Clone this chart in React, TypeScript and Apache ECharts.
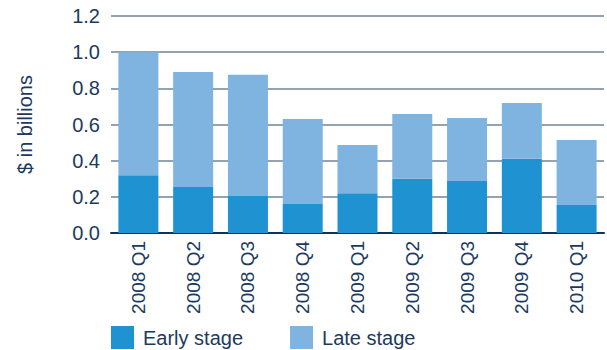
import React, { useEffect, useRef } from "react";
import * as echarts from "echarts";

const categories = ["2008 Q1", "2008 Q2", "2008 Q3", "2008 Q4", "2009 Q1", "2009 Q2", "2009 Q3", "2009 Q4", "2010 Q1"];
const earlyStage = [0.32, 0.255, 0.205, 0.16, 0.22, 0.30, 0.288, 0.41, 0.155];
const lateStage = [0.68, 0.635, 0.67, 0.47, 0.267, 0.358, 0.348, 0.309, 0.359];
const yTicks = { min: 0, max: 1.2, interval: 0.2 };

const TEXT = "#1b3a5e";
const FONT = "Liberation Sans, Arial, sans-serif";

export default function App() {
  const ref = useRef<HTMLDivElement>(null);
  useEffect(() => {
    if (!ref.current) return;
    const chart = echarts.init(ref.current, undefined, { renderer: "svg" });
    chart.setOption({
      animation: false,
      textStyle: { fontFamily: FONT },
      grid: { left: 111, right: 3, top: 16, bottom: 117, containLabel: false },
      legend: {
        left: 111,
        top: 326,
        padding: 0,
        itemWidth: 23,
        itemHeight: 23,
        itemGap: 47,
        icon: "rect",
        textStyle: { color: TEXT, fontSize: 20, fontFamily: FONT, padding: [0, 0, 0, 4] },
        data: ["Early stage", "Late stage"],
      },
      xAxis: {
        type: "category",
        data: categories,
        axisLine: { show: true, lineStyle: { color: "#15324f", width: 2 } },
        axisTick: { show: false },
        axisLabel: { rotate: 90, color: TEXT, fontSize: 19, margin: 8, fontFamily: FONT },
      },
      yAxis: {
        type: "value",
        min: yTicks.min,
        max: yTicks.max,
        interval: yTicks.interval,
        name: "$ in billions",
        nameLocation: "middle",
        nameGap: 76,
        nameRotate: 90,
        nameTextStyle: { color: TEXT, fontSize: 20, fontFamily: FONT },
        axisLine: { show: false },
        axisTick: { show: false },
        axisLabel: {
          color: TEXT,
          fontSize: 20,
          margin: 11,
          fontFamily: FONT,
          formatter: (v: number) => v.toFixed(1),
        },
        splitLine: { show: true, lineStyle: { color: "#6f8498", width: 1.5 } },
      },
      series: [
        {
          name: "Early stage",
          type: "bar",
          stack: "total",
          data: earlyStage,
          barWidth: 40,
          itemStyle: { color: "#1f93d1" },
        },
        {
          name: "Late stage",
          type: "bar",
          stack: "total",
          data: lateStage,
          barWidth: 40,
          itemStyle: { color: "#7fb3e0" },
        },
      ],
    });
    return () => chart.dispose();
  }, []);
  return <div ref={ref} style={{ width: 607, height: 350, position: "absolute", left: 0, top: 0 }} />;
}
